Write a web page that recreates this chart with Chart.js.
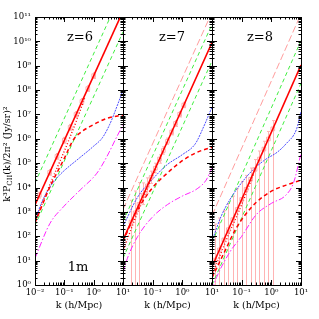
<!DOCTYPE html>
<html lang="en">
<head>
<meta charset="UTF-8">
<title>CII power spectra, 1m</title>
<script src="https://cdn.jsdelivr.net/npm/chart.js@4/dist/chart.umd.min.js"></script>
<style>
    body { margin: 0; background: #fff; }
    #wrap { position: relative; width: 319px; height: 319px; }
    #wrap canvas { position: absolute; left: 0; top: 0; }
</style>
</head>
<body>
<div id="wrap">
    <canvas id="p6" width="319" height="319"></canvas>
    <canvas id="p7" width="319" height="319"></canvas>
    <canvas id="p8" width="319" height="319"></canvas>
</div>
<script>
// k range of every panel, straight power laws are given by their two end values
const kEnds = [0.01, 10];
const yTickValues = [1, 10, 1e2, 1e3, 1e4, 1e5, 1e6, 1e7, 1e8, 1e9, 1e10, 1e11];
const yTickLabels = ['10⁰', '10¹', '10²', '10³', '10⁴', '10⁵', '10⁶', '10⁷', '10⁸', '10⁹', '10¹⁰', '10¹¹'];
const xTickLabels = { '-2': '10⁻²', '-1': '10⁻¹', '0': '10⁰', '1': '10¹' };

// ---- z = 6
const red6 = [1.95e3, 1.74e11];
const greenHi6 = [1.55e4, 1.4e12];
const greenLo6 = [2.75e2, 2.45e10];
const blueK6 = [0.01, 0.0178, 0.0316, 0.0562, 0.1, 0.316, 1, 2.0, 3.55, 6.31, 10];
const blue6 = [447, 2820, 1.0e4, 2.51e4, 5.01e4, 1.58e5, 5.01e5, 1.12e6, 3.98e6, 2.24e7, 1.0e8];
const magK6 = [0.01, 0.0324, 0.0933, 0.347, 1.29, 2.82, 6.17, 10];
const mag6 = [12.6, 339, 1620, 7940, 3.89e4, 1.86e5, 1.23e6, 3.72e6];
const dashK6 = [0.01, 0.0316, 0.1, 0.2, 0.398, 0.794, 2.82, 10];
const dash6 = [355, 1.0e4, 1.58e5, 8.91e5, 2.0e6, 3.31e6, 6.92e6, 9.55e6];
const dotK6 = [0.01, 0.0316, 0.1, 0.251, 0.501];
const dot6 = [398, 1.26e4, 3.16e5, 5.01e6, 5.01e7];
const ptK6 = [0.0141, 0.0316, 0.0562, 0.1, 0.158, 0.251, 0.398, 0.631, 1.0];
const pt6 = [4.9e3, 4.17e4, 1.9e5, 8.7e5, 2.95e6, 1.0e7, 3.4e7, 1.15e8, 3.9e8];
const ptHi6 = [6.5e3, 5.5e4, 2.5e5, 1.15e6, 3.9e6, 1.3e7, 4.5e7, 1.5e8, 5.1e8];
const ptLo6 = [3.7e3, 3.2e4, 1.45e5, 6.6e5, 2.25e6, 7.6e6, 2.6e7, 8.8e7, 3.0e8];

// ---- z = 7
const red7 = [71, 8.9e9];
const pink7 = [1.26e3, 1.58e11];
const greenHi7 = [400, 5.0e10];
const greenLo7 = [12.6, 1.58e9];
const blueK7 = [0.01, 0.0316, 0.1, 0.316, 1, 2.75, 5.25, 10];
const blue7 = [251, 4170, 2.24e4, 8.91e4, 2.24e5, 6.31e5, 3.16e6, 2.0e7];
const magK7 = [0.01, 0.0141, 0.0316, 0.1, 0.316, 1, 3.16, 6.31, 10];
const mag7 = [3.16, 12.6, 100, 631, 2000, 4470, 8910, 2.0e4, 6.3e4];
const dashK7 = [0.01, 0.0316, 0.1, 0.316, 1, 3.16, 10];
const dash7 = [63, 1260, 1.0e4, 3.98e4, 1.26e5, 2.82e5, 4.47e5];
const dotK7 = [0.01, 0.0251, 0.0501, 0.1, 0.2];
const dot7 = [25, 501, 3980, 3.16e4, 2.24e5];
const ptK7 = [0.0186, 0.0257, 0.0347, 0.0479, 0.0661, 0.0891, 0.123, 0.170, 0.229, 0.316, 0.437, 0.589, 0.813, 1.12];
const pt7 = [380, 912, 2040, 4870, 1.16e4, 2.61e4, 6.2e4, 1.48e5, 3.32e5, 7.9e5, 1.9e6, 4.26e6, 1.02e7, 2.43e7];
const ptHi7 = [3.0e3, 7.2e3, 1.6e4, 1.55e4, 2.5e4, 4.7e4, 1.0e5, 2.2e5, 4.7e5, 1.07e6, 2.5e6, 5.6e6, 1.32e7, 3.16e7];
const ptLo7 = [0.1, 0.1, 0.1, 2.0e3, 5.6e3, 1.48e4, 4.0e4, 1.0e5, 2.35e5, 5.9e5, 1.45e6, 3.2e6, 7.9e6, 1.9e7];

// ---- z = 8
const red8 = [5.6, 1.07e9];
const pink8 = [710, 1.35e11];
const greenHi8 = [56, 1.07e10];
const greenLo8 = [1.0, 1.9e8];
const blueK8 = [0.01, 0.02, 0.0398, 0.1, 0.251, 0.631, 1.58, 3.16, 7.08, 10];
const blue8 = [63, 631, 3160, 1.58e4, 5.62e4, 1.41e5, 2.82e5, 6.31e5, 2.5e6, 1.3e7];
const magK8 = [0.01, 0.0141, 0.0398, 0.1, 0.316, 1, 3.16, 5.62, 10];
const mag8 = [0.63, 2.0, 22.4, 100, 794, 2240, 5010, 1.58e4, 2.5e5];
const dashK8 = [0.01, 0.0251, 0.0631, 0.126, 0.316, 1, 3.16, 10];
const dash8 = [2.0, 20, 200, 708, 2510, 7080, 1.26e4, 2.0e4];
const dotK8 = [0.01, 0.0316, 0.1, 0.251];
const dot8 = [2.5, 79, 2000, 3.55e4];
const ptK8 = [0.0126, 0.0178, 0.0251, 0.0355, 0.0501, 0.0708, 0.1, 0.141, 0.200, 0.282, 0.398, 0.562, 0.794, 1.12];
const pt8 = [10.6, 27.5, 71, 186, 479, 1260, 3240, 8400, 2.19e4, 5.6e4, 1.48e5, 3.8e5, 9.8e5, 2.57e6];
const ptHi8 = [316, 562, 1120, 2240, 4470, 8910, 1.78e4, 3.16e4, 6.31e4, 1.41e5, 3.16e5, 7.94e5, 2.0e6, 5.62e6];
const ptLo8 = [0.1, 0.1, 0.1, 0.1, 0.1, 0.1, 0.1, 0.1, 0.1, 0.1, 0.1, 0.1, 0.1, 0.1];

const SERIF = "'DejaVu Serif', 'Liberation Serif', serif";
const RED = '#ff0000', GREEN = '#40ee40', PINK = '#ff9c9c', BLUE = '#3535ff', MAGENTA = '#ff22ff', ERR = '#ffb4b4';

function pts(k, y) {
    return k.map((v, i) => ({ x: v, y: y[i] }));
}

function curve(k, y, color, width, dash) {
    return {
        type: 'line', data: pts(k, y), borderColor: color, borderWidth: width,
        borderDash: dash, pointRadius: 0, fill: false, cubicInterpolationMode: 'monotone'
    };
}

// error bars (vertical pink lines with a cap on top), drawn under the curves
const errorBars = {
    id: 'errorBars',
    beforeDatasetsDraw(chart, args, opts) {
        const { ctx, chartArea: a, scales: { x, y } } = chart;
        ctx.save();
        ctx.beginPath();
        ctx.rect(a.left, a.top, a.right - a.left, a.bottom - a.top);
        ctx.clip();
        ctx.strokeStyle = ERR;
        ctx.lineWidth = 1;
        opts.k.forEach((k, i) => {
            const px = Math.round(x.getPixelForValue(k)) + 0.5;
            const top = y.getPixelForValue(opts.hi[i]);
            const bot = Math.min(y.getPixelForValue(opts.lo[i]), a.bottom + 2);
            ctx.beginPath();
            ctx.moveTo(px, bot);
            ctx.lineTo(px, top);
            ctx.moveTo(px - 1.5, top);
            ctx.lineTo(px + 1.5, top);
            if (bot < a.bottom) {
                ctx.moveTo(px - 1.5, bot);
                ctx.lineTo(px + 1.5, bot);
            }
            ctx.stroke();
        });
        ctx.restore();
    }
};

// frame, inward major and minor ticks on all four sides, panel labels
const frame = {
    id: 'frame',
    afterDatasetsDraw(chart, args, opts) {
        const { ctx, chartArea: a, scales: { x, y } } = chart;
        ctx.save();
        ctx.strokeStyle = '#000';
        ctx.lineWidth = 1;
        ctx.beginPath();
        for (let n = 0; n <= 10; n++) {
            for (let m = 1; m <= 9; m++) {
                const py = Math.round(y.getPixelForValue(m * Math.pow(10, n))) + 0.5;
                const len = m === 1 ? 5 : 2.5;
                ctx.moveTo(a.left, py); ctx.lineTo(a.left + len, py);
                ctx.moveTo(a.right, py); ctx.lineTo(a.right - len, py);
            }
        }
        for (let n = -2; n <= 0; n++) {
            for (let m = 1; m <= 9; m++) {
                const px = Math.round(x.getPixelForValue(m * Math.pow(10, n))) + 0.5;
                const len = m === 1 ? 5 : 2.5;
                ctx.moveTo(px, a.bottom); ctx.lineTo(px, a.bottom - len);
                ctx.moveTo(px, a.top); ctx.lineTo(px, a.top + len);
            }
        }
        ctx.stroke();
        ctx.strokeRect(Math.round(a.left) + 0.5, Math.round(a.top) + 0.5,
            Math.round(a.right - a.left), Math.round(a.bottom - a.top));

        ctx.fillStyle = '#000';
        ctx.textAlign = 'center';
        ctx.textBaseline = 'middle';
        ctx.font = '13px ' + SERIF;
        ctx.fillText(opts.label, opts.labelX, 38);
        if (opts.note) ctx.fillText(opts.note, 78, 268);

        if (opts.yTitle) {
            // k³P_CII(k)/2π² (Jy/sr)² with a real subscript
            const parts = [['k³P', 9.5, 0], ['CII', 7, 2.5], ['(k)/2π² (Jy/sr)²', 9.5, 0]];
            ctx.translate(8, 154);
            ctx.rotate(-Math.PI / 2);
            let total = 0;
            parts.forEach(p => { ctx.font = p[1] + 'px ' + SERIF; total += ctx.measureText(p[0]).width; });
            let cx = -total / 2;
            ctx.textAlign = 'left';
            parts.forEach(p => {
                ctx.font = p[1] + 'px ' + SERIF;
                ctx.fillText(p[0], cx, p[2]);
                cx += ctx.measureText(p[0]).width;
            });
        }
        ctx.restore();
    }
};

function makePanel(id, left, right, label, labelX, xTicks, sets, err, first) {
    new Chart(document.getElementById(id), {
        data: { datasets: sets },
        options: {
            responsive: false,
            animation: false,
            devicePixelRatio: 1,
            layout: { padding: { left: first ? 0 : left, right: 319 - right, top: 17, bottom: 0 } },
            plugins: {
                legend: { display: false },
                tooltip: { enabled: false },
                errorBars: err,
                frame: { label: label, labelX: labelX, note: first ? '1m' : null, yTitle: first }
            },
            scales: {
                x: {
                    type: 'logarithmic', min: 0.01, max: 10,
                    grid: { display: false, drawTicks: false },
                    border: { display: false },
                    afterBuildTicks: s => { s.ticks = xTicks.map(v => ({ value: v })); },
                    afterFit: s => { s.height = 34; s.paddingLeft = 0; s.paddingRight = 0; },
                    ticks: {
                        autoSkip: false, maxRotation: 0, padding: 3, color: '#000',
                        font: { family: SERIF, size: 8.5 },
                        callback: v => xTickLabels[String(Math.round(Math.log10(v)))]
                    },
                    title: { display: true, text: 'k (h/Mpc)', color: '#000', font: { family: SERIF, size: 9.5 }, padding: { top: 0, bottom: 8 } }
                },
                y: {
                    type: 'logarithmic', min: 1, max: 1e11,
                    display: first,
                    grid: { display: false, drawTicks: false },
                    border: { display: false },
                    afterBuildTicks: s => { s.ticks = yTickValues.map(v => ({ value: v })); },
                    afterFit: s => { s.width = first ? left : 0; s.paddingTop = 0; s.paddingBottom = 0; },
                    ticks: {
                        autoSkip: false, padding: 4, color: '#000',
                        font: { family: SERIF, size: 8.5 },
                        callback: (v, i) => yTickLabels[i]
                    }
                }
            }
        },
        plugins: [errorBars, frame]
    });
}

function boxes(k, y) {
    return {
        type: 'line', data: pts(k, y), showLine: false, pointStyle: 'rect', pointRadius: 2.6,
        pointBorderColor: PINK, pointBackgroundColor: 'rgba(0,0,0,0)', pointBorderWidth: 0.8
    };
}

makePanel('p6', 35, 123, 'z=6', 80, [0.01, 0.1, 1, 10], [
    curve(kEnds, red6, RED, 1.6, []),
    boxes(ptK6, pt6),
    curve(dotK6, dot6, RED, 1.4, [1, 2]),
    curve(dashK6, dash6, RED, 1.5, [4, 3]),
    curve(magK6, mag6, MAGENTA, 1, [6, 2, 1.5, 2]),
    curve(blueK6, blue6, BLUE, 0.9, [2, 1]),
    curve(kEnds, greenHi6, GREEN, 1, [4, 3]),
    curve(kEnds, greenLo6, GREEN, 1, [4, 3])
], { k: ptK6, hi: ptHi6, lo: ptLo6 }, true);

makePanel('p7', 123, 212, 'z=7', 172, [0.1, 1, 10], [
    curve(kEnds, red7, RED, 1.6, []),
    boxes(ptK7, pt7),
    curve(dotK7, dot7, RED, 1.4, [1, 2]),
    curve(dashK7, dash7, RED, 1.5, [4, 3]),
    curve(magK7, mag7, MAGENTA, 1, [6, 2, 1.5, 2]),
    curve(blueK7, blue7, BLUE, 0.9, [2, 1]),
    curve(kEnds, greenHi7, GREEN, 1, [4, 3]),
    curve(kEnds, greenLo7, GREEN, 1, [4, 3]),
    curve(kEnds, pink7, PINK, 1, [7, 3])
], { k: ptK7, hi: ptHi7, lo: ptLo7 }, false);

makePanel('p8', 212, 301, 'z=8', 260, [0.1, 1, 10], [
    curve(kEnds, red8, RED, 1.6, []),
    boxes(ptK8, pt8),
    curve(dotK8, dot8, RED, 1.4, [1, 2]),
    curve(dashK8, dash8, RED, 1.5, [4, 3]),
    curve(magK8, mag8, MAGENTA, 1, [6, 2, 1.5, 2]),
    curve(blueK8, blue8, BLUE, 0.9, [2, 1]),
    curve(kEnds, greenHi8, GREEN, 1, [4, 3]),
    curve(kEnds, greenLo8, GREEN, 1, [4, 3]),
    curve(kEnds, pink8, PINK, 1, [7, 3])
], { k: ptK8, hi: ptHi8, lo: ptLo8 }, false);
</script>
</body>
</html>
